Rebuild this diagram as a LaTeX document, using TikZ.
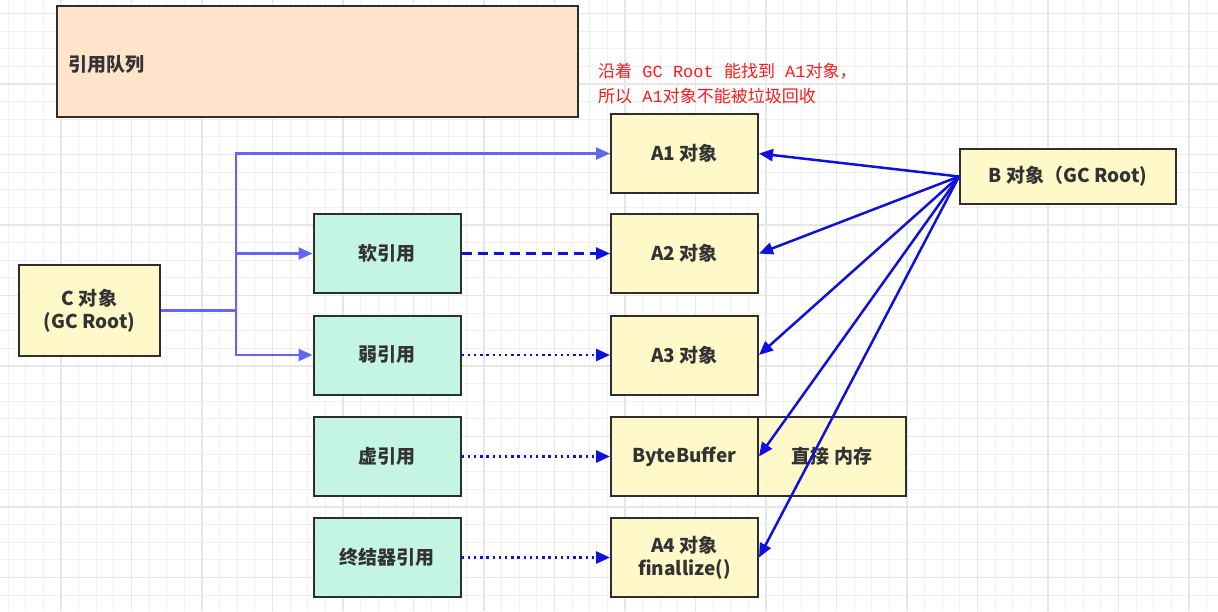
\documentclass[tikz,border=0pt]{standalone}
\usepackage{fontspec}
\setmainfont{Noto Sans CJK SC}
\newfontfamily\notefont{Noto Sans CJK SC}
\newfontfamily\notemono{Liberation Mono}
\usetikzlibrary{arrows.meta}
\definecolor{objyellow}{HTML}{FFF8C9}
\definecolor{refgreen}{HTML}{C4F5E2}
\definecolor{queuepeach}{HTML}{FFE4CC}
\definecolor{boxline}{HTML}{2E2E2E}
\definecolor{textgray}{HTML}{333333}
\definecolor{rootblue}{HTML}{6464F5}
\definecolor{refblue}{HTML}{1010DC}
\definecolor{notered}{HTML}{FF1A1A}
\definecolor{gridminor}{HTML}{F1F1F1}
\definecolor{gridmajor}{HTML}{E6E6E6}

\begin{document}
\begin{tikzpicture}[x=1pt, y=-1pt,
% boxes
box/.style={draw=boxline, line width=2pt, inner sep=0, align=center, text=textgray,
  font=\bfseries\fontsize{19}{23}\selectfont, minimum width=147pt, minimum height=79pt},
obj/.style={box, fill=objyellow},
refbox/.style={box, fill=refgreen},
queuebox/.style={box, fill=queuepeach, minimum width=521pt, minimum height=111pt},
% connectors
tip/.style={-{Triangle[length=14pt, width=12pt]}},
rootarrow/.style={tip, rootblue, line width=2.4pt},
strongarrow/.style={tip, refblue, line width=2.5pt},
softarrow/.style={tip, refblue, line width=2.5pt, dash pattern=on 10pt off 6pt},
weakarrow/.style={tip, refblue, line width=2.8pt, dash pattern=on 2.4pt off 3.8pt},
% background grid
minorline/.style={gridminor, line width=1pt},
majorline/.style={gridmajor, line width=1.4pt}
]

\useasboundingbox (0,0) rectangle (1218,611);
\fill[white] (0,0) rectangle (1218,611);

% grid
\foreach \k in {0,...,68} {
  \draw[minorline] (8.1+\k*17.625,0) -- (8.1+\k*17.625,611);
}
\foreach \k in {0,...,34} {
  \draw[minorline] (0,13.5+\k*17.625) -- (1218,13.5+\k*17.625);
}
\foreach \k in {0,...,16} {
  \draw[majorline] (61+\k*70.5,0) -- (61+\k*70.5,611);
}
\foreach \k in {0,...,8} {
  \draw[majorline] (0,13.5+\k*70.5) -- (1218,13.5+\k*70.5);
}

% reference queue
\node[queuebox] (queue) at (317.5,61.5) {};
\node[anchor=west, text=textgray, font=\bfseries\fontsize{19}{23}\selectfont] (queuelabel) at (65,64) {引用队列};

% note
\node[anchor=north west, align=left, text=notered, inner sep=0,
  font=\notefont\fontsize{17}{25}\selectfont] (note) at (598,63)
  {沿着{\notemono\ GC Root\ }能找到{\notemono\ A1}对象，\\所以{\notemono\ A1}对象不能被垃圾回收};

% objects
\node[obj] (aone) at (684.5,153.5) {A1 对象};
\node[obj] (atwo) at (684.5,253.5) {A2 对象};
\node[obj] (athree) at (684.5,355) {A3 对象};
\node[obj] (buf) at (684.5,456.5) {ByteBuffer};
\node[obj, minimum width=148pt] (mem) at (832,456.5) {直接 内存};
\node[obj] (afour) at (684.5,557.5) {A4 对象\\finallize()};

% references
\node[refbox] (soft) at (387,253.5) {软引用};
\node[refbox] (weak) at (387,355) {弱引用};
\node[refbox] (phantom) at (387,456.5) {虚引用};
\node[refbox] (final) at (387,557.5) {终结器引用};

% GC roots
\node[obj, minimum width=141pt, minimum height=91pt] (cobj) at (89.5,310.5) {C 对象\\(GC Root)};
\node[obj, minimum width=216pt, minimum height=55pt] (bobj) at (1068,176.5) {B 对象（GC Root)};

% C root
\coordinate (split) at (236,310.5);
\draw[rootblue, line width=2.4pt] (cobj.east) -- (split);
\draw[rootarrow] (split) |- (aone.west);
\draw[rootarrow] (split) |- (soft.west);
\draw[rootarrow] (split) |- (weak.west);

% references to objects
\draw[softarrow] (soft) -- (atwo);
\draw[weakarrow] (weak) -- (athree);
\draw[weakarrow] (phantom) -- (buf);
\draw[weakarrow] (final) -- (afour);

% B root
\foreach \t in {aone,atwo,athree,buf,afour} {
  \draw[strongarrow] (bobj.west) -- (\t.east);
}

\end{tikzpicture}
\end{document}
